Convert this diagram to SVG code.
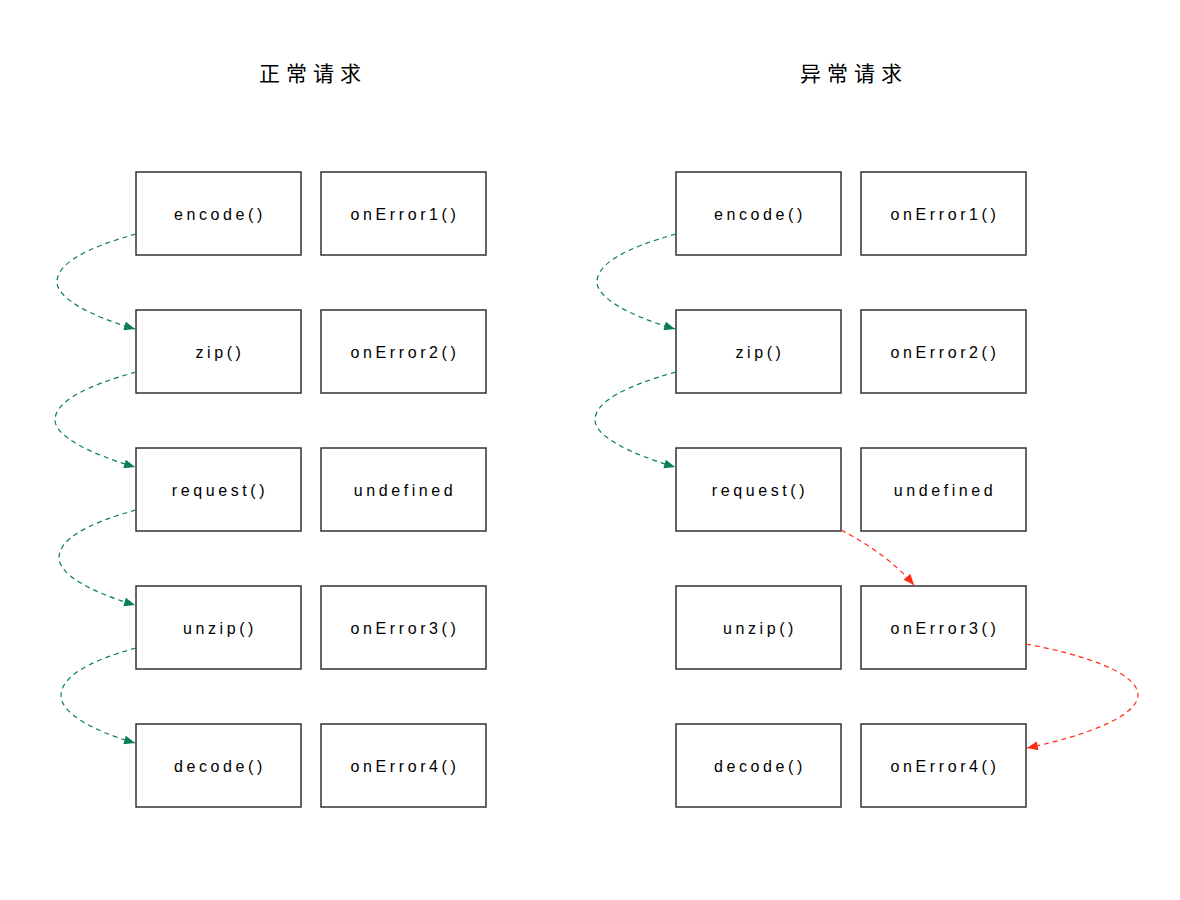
<svg xmlns="http://www.w3.org/2000/svg" width="1180" height="900" viewBox="0 0 1180 900">
<defs>
<style>
.box rect{fill:#fff;stroke:#333;stroke-width:1.5}
.box text{font-family:"Liberation Sans",sans-serif;font-size:16px;letter-spacing:3.6px;fill:#000;text-anchor:middle;dominant-baseline:central}
.title{font-family:"Noto Sans CJK SC",sans-serif;font-size:21px;letter-spacing:6px;fill:#000;text-anchor:middle}
.g{fill:none;stroke:#0a8050;stroke-width:1.2;stroke-dasharray:5 4}
.r{fill:none;stroke:#ff2a10;stroke-width:1.2;stroke-dasharray:5 4}
</style>
<marker id="ag" viewBox="0 0 12 10" refX="12" refY="5" markerWidth="12" markerHeight="9" orient="auto" markerUnits="userSpaceOnUse"><path d="M0,0 L12,5 L0,10 z" fill="#0a8050"/></marker>
<marker id="ar" viewBox="0 0 12 10" refX="12" refY="5" markerWidth="12" markerHeight="9" orient="auto" markerUnits="userSpaceOnUse"><path d="M0,0 L12,5 L0,10 z" fill="#ff2a10"/></marker>
</defs>
<rect width="1180" height="900" fill="#fff"/>
<text class="title" x="313" y="81">正常请求</text>
<text class="title" x="854" y="81">异常请求</text>
<g id="l-encode" class="box"><rect x="136" y="172" width="165" height="83"/><text x="220" y="214">encode()</text></g>
<g id="l-onError1" class="box"><rect x="321" y="172" width="165" height="83"/><text x="405" y="214">onError1()</text></g>
<g id="l-zip" class="box"><rect x="136" y="310" width="165" height="83"/><text x="220" y="352">zip()</text></g>
<g id="l-onError2" class="box"><rect x="321" y="310" width="165" height="83"/><text x="405" y="352">onError2()</text></g>
<g id="l-request" class="box"><rect x="136" y="448" width="165" height="83"/><text x="220" y="490">request()</text></g>
<g id="l-undefined" class="box"><rect x="321" y="448" width="165" height="83"/><text x="405" y="490">undefined</text></g>
<g id="l-unzip" class="box"><rect x="136" y="586" width="165" height="83"/><text x="220" y="628">unzip()</text></g>
<g id="l-onError3" class="box"><rect x="321" y="586" width="165" height="83"/><text x="405" y="628">onError3()</text></g>
<g id="l-decode" class="box"><rect x="136" y="724" width="165" height="83"/><text x="220" y="766">decode()</text></g>
<g id="l-onError4" class="box"><rect x="321" y="724" width="165" height="83"/><text x="405" y="766">onError4()</text></g>
<g id="r-encode" class="box"><rect x="676" y="172" width="165" height="83"/><text x="760" y="214">encode()</text></g>
<g id="r-onError1" class="box"><rect x="861" y="172" width="165" height="83"/><text x="945" y="214">onError1()</text></g>
<g id="r-zip" class="box"><rect x="676" y="310" width="165" height="83"/><text x="760" y="352">zip()</text></g>
<g id="r-onError2" class="box"><rect x="861" y="310" width="165" height="83"/><text x="945" y="352">onError2()</text></g>
<g id="r-request" class="box"><rect x="676" y="448" width="165" height="83"/><text x="760" y="490">request()</text></g>
<g id="r-undefined" class="box"><rect x="861" y="448" width="165" height="83"/><text x="945" y="490">undefined</text></g>
<g id="r-unzip" class="box"><rect x="676" y="586" width="165" height="83"/><text x="760" y="628">unzip()</text></g>
<g id="r-onError3" class="box"><rect x="861" y="586" width="165" height="83"/><text x="945" y="628">onError3()</text></g>
<g id="r-decode" class="box"><rect x="676" y="724" width="165" height="83"/><text x="760" y="766">decode()</text></g>
<g id="r-onError4" class="box"><rect x="861" y="724" width="165" height="83"/><text x="945" y="766">onError4()</text></g>
<g id="connectors">
<path class="g" d="M136,234 C85,248 57,264 57,282 C57,298 90,316 135,329" marker-end="url(#ag)"/>
<path class="g" d="M136,372 C85,386 55,402 55,420 C55,436 90,454 135,467" marker-end="url(#ag)"/>
<path class="g" d="M136,510 C85,524 59,540 59,558 C59,574 90,592 135,605" marker-end="url(#ag)"/>
<path class="g" d="M136,648 C85,662 61,678 61,696 C61,712 90,730 135,743" marker-end="url(#ag)"/>
<path class="g" d="M676,234 C625,248 597,264 597,282 C597,298 630,316 675,329" marker-end="url(#ag)"/>
<path class="g" d="M676,372 C625,386 595,402 595,420 C595,436 630,454 675,467" marker-end="url(#ag)"/>
<path class="r" d="M841,530 C870,545 895,563 914,585" marker-end="url(#ar)"/>
<path class="r" d="M1026,644 C1080,654 1138,672 1138,695 C1138,715 1090,735 1027,748" marker-end="url(#ar)"/>
</g>
</svg>
